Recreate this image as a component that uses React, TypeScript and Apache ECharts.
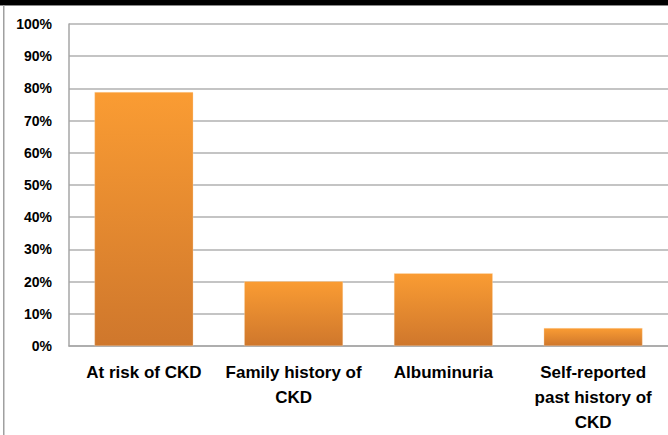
import React, { useEffect, useRef } from "react";
import * as echarts from "echarts";

const categories = [
  "At risk of CKD",
  "Family history of\nCKD",
  "Albuminuria",
  "Self-reported\npast history of\nCKD",
];
const values = [0.789, 0.201, 0.226, 0.056];
const yTicks = { min: 0, max: 1, interval: 0.1 };

export default function App() {
  const ref = useRef<HTMLDivElement>(null);
  useEffect(() => {
    if (!ref.current) return;
    const chart = echarts.init(ref.current, null, { renderer: "svg" });
    chart.setOption({
      animation: false,
      backgroundColor: "#ffffff",
      grid: { left: 69, top: 24, width: 600, height: 323 },
      graphic: [
        { type: "rect", left: 0, top: 0, shape: { width: 668, height: 5 }, style: { fill: "#000000" } },
        { type: "rect", left: 0, top: 5, shape: { width: 668, height: 1 }, style: { fill: "#8a8a8a" } },
        { type: "rect", left: 3, top: 5, shape: { width: 1.5, height: 430 }, style: { fill: "#a0a0a0" } },
      ],
      xAxis: {
        type: "category",
        data: categories,
        axisLine: { show: true, lineStyle: { color: "#a6a6a6", width: 1.5 } },
        axisTick: { show: false },
        axisLabel: {
          interval: 0,
          margin: 14,
          color: "#000000",
          fontFamily: "Liberation Sans",
          fontWeight: "bold",
          fontSize: 17,
          lineHeight: 25,
        },
      },
      yAxis: {
        type: "value",
        min: yTicks.min,
        max: yTicks.max,
        interval: yTicks.interval,
        axisLine: { show: true, lineStyle: { color: "#a6a6a6", width: 1.5 } },
        axisTick: { show: false },
        splitLine: { show: true, lineStyle: { color: "#b0b0b0", width: 1.5 } },
        axisLabel: {
          margin: 17,
          color: "#000000",
          fontFamily: "Liberation Sans",
          fontWeight: "bold",
          fontSize: 14,
          formatter: (v: number) => Math.round(v * 100) + "%",
        },
      },
      series: [
        {
          type: "bar",
          data: values,
          barWidth: "66%",
          itemStyle: {
            color: new echarts.graphic.LinearGradient(0, 0, 0, 1, [
              { offset: 0, color: "#fa9c33" },
              { offset: 1, color: "#cf772c" },
            ]),
            borderColor: "rgba(255,230,200,0.6)",
            borderWidth: 0.5,
          },
        },
      ],
    });
    return () => chart.dispose();
  }, []);
  return (
    <div
      ref={ref}
      style={{ position: "absolute", left: 0, top: 0, width: 668, height: 435 }}
    />
  );
}
